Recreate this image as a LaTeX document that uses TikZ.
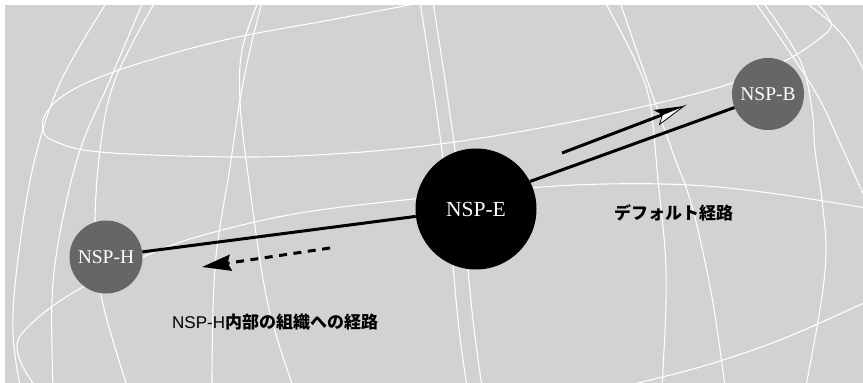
\documentclass[tikz,border=0pt]{standalone}
\usepackage{fontspec}
\setmainfont{Liberation Serif}
\newfontfamily\cjk{Noto Sans CJK JP}
\newfontfamily\lsans{Liberation Sans}
\usetikzlibrary{arrows.meta}
\definecolor{bg}{RGB}{209,210,212}
\definecolor{nodegray}{RGB}{102,102,102}
\begin{document}
\begin{tikzpicture}[x=1pt,y=-1pt,
  grid/.style={white, line width=1.1pt},
  nsp/.style={circle, inner sep=0pt, text=white, font=\fontsize{19.5}{19.5}\selectfont},
  link/.style={black, line width=3pt},
  lbl/.style={font=\fontsize{17}{17}\selectfont, anchor=west, inner sep=0pt}]
\useasboundingbox (0,0) rectangle (863,383);
\fill[bg] (5,5) rectangle (863,383);
\begin{scope}
\clip (5,5) rectangle (863,383);
% parallels
\draw[grid] plot[smooth, tension=0.6] coordinates {(425,2) (330,20) (233,38) (150,60) (93,80) (60,98) (45,115) (43,128) (52,140) (100,152) (233,157) (333,154) (432,145) (540,128) (650,105) (733,83) (783,62) (815,42) (831,27) (826,14) (816,2)};
\draw[grid] plot[smooth, tension=0.6] coordinates {(866,208) (770,193) (690,185) (605,184) (528,188) (432,197) (300,213) (200,236) (143,257) (83,287) (50,308) (25,330) (17,345) (22,365) (35,386)};
\draw[grid] plot[smooth, tension=0.6] coordinates {(625,386) (700,367) (780,340) (866,302)};
% meridians
\draw[grid] plot[smooth, tension=0.6] coordinates {(107,2) (60,83) (33,167) (17,267) (13,333) (20,386)};
\draw[grid] plot[smooth, tension=0.6] coordinates {(143,2) (110,80) (80,150) (60,233) (52,300) (53,386)};
\draw[grid] plot[smooth, tension=0.6] coordinates {(155,2) (115,80) (100,150) (95,233) (102,300) (127,386)};
\draw[grid] plot[smooth, tension=0.6] coordinates {(262,2) (250,50) (240,100) (230,167) (215,267) (212,386)};
\draw[grid] plot[smooth, tension=0.6] coordinates {(258,2) (242,50) (240,100) (247,167) (267,300) (293,386)};
\draw[grid] plot[smooth, tension=0.6] coordinates {(420,2) (435,100) (446,187) (458,320) (467,386)};
\draw[grid] plot[smooth, tension=0.6] coordinates {(433,2) (448,100) (460,190) (473,320) (482,386)};
\draw[grid] plot[smooth, tension=0.6] coordinates {(605,2) (635,60) (650,103) (658,180) (665,250) (666,303) (663,370) (662,386)};
\draw[grid] plot[smooth, tension=0.6] coordinates {(620,2) (640,60) (673,153) (687,190) (698,230) (713,303) (725,386)};
\draw[grid] plot[smooth, tension=0.6] coordinates {(763,2) (800,60) (812,110) (815,150) (822,200) (826,250) (821,303) (806,386)};
\draw[grid] plot[smooth, tension=0.6] coordinates {(755,2) (795,60) (820,100) (840,143) (866,200)};
\draw[grid] plot[smooth, tension=0.6] coordinates {(805,2) (830,22) (850,45) (866,75)};
\end{scope}
% nodes
\node[nsp, fill=black, minimum size=121pt, font=\fontsize{21.5}{21.5}\selectfont] (E) at (476,209) {NSP-E};
\node[nsp, fill=nodegray, minimum size=72pt] (B) at (768,94) {NSP-B};
\node[nsp, fill=nodegray, minimum size=73pt] (H) at (106,257) {NSP-H};
% connectors
\draw[link] (H.8) -- (E.187);
\draw[link] (E.27) -- (B.202);
% default route arrow (half black, half white head)
\coordinate (a1s) at (562,153);
\coordinate (a1t) at (684,106);
\coordinate (a1u) at (653.5,110);
\coordinate (a1l) at (659.5,124.5);
\coordinate (a1i) at (662.4,114.8);
\draw[link] (a1s) -- (a1i);
\fill[black] (a1t) -- (a1u) -- (a1i) -- cycle;
\filldraw[fill=white, draw=black, line width=0.8pt, line join=miter] (a1t) -- (a1i) -- (a1l) -- cycle;
% internal route arrow
\coordinate (a2s) at (330,248);
\coordinate (a2t) at (202,267);
\draw[link, dash pattern=on 8pt off 6.5pt, -{Stealth[length=29pt, width=16pt, inset=3pt]}] (a2s) -- (a2t);
% labels
\node[lbl] (dl) at (614,213) {\cjk\bfseries デフォルト経路};
\node[lbl] (hl) at (172,322) {\lsans NSP-H\cjk\bfseries 内部の組織への経路};
\end{tikzpicture}
\end{document}
